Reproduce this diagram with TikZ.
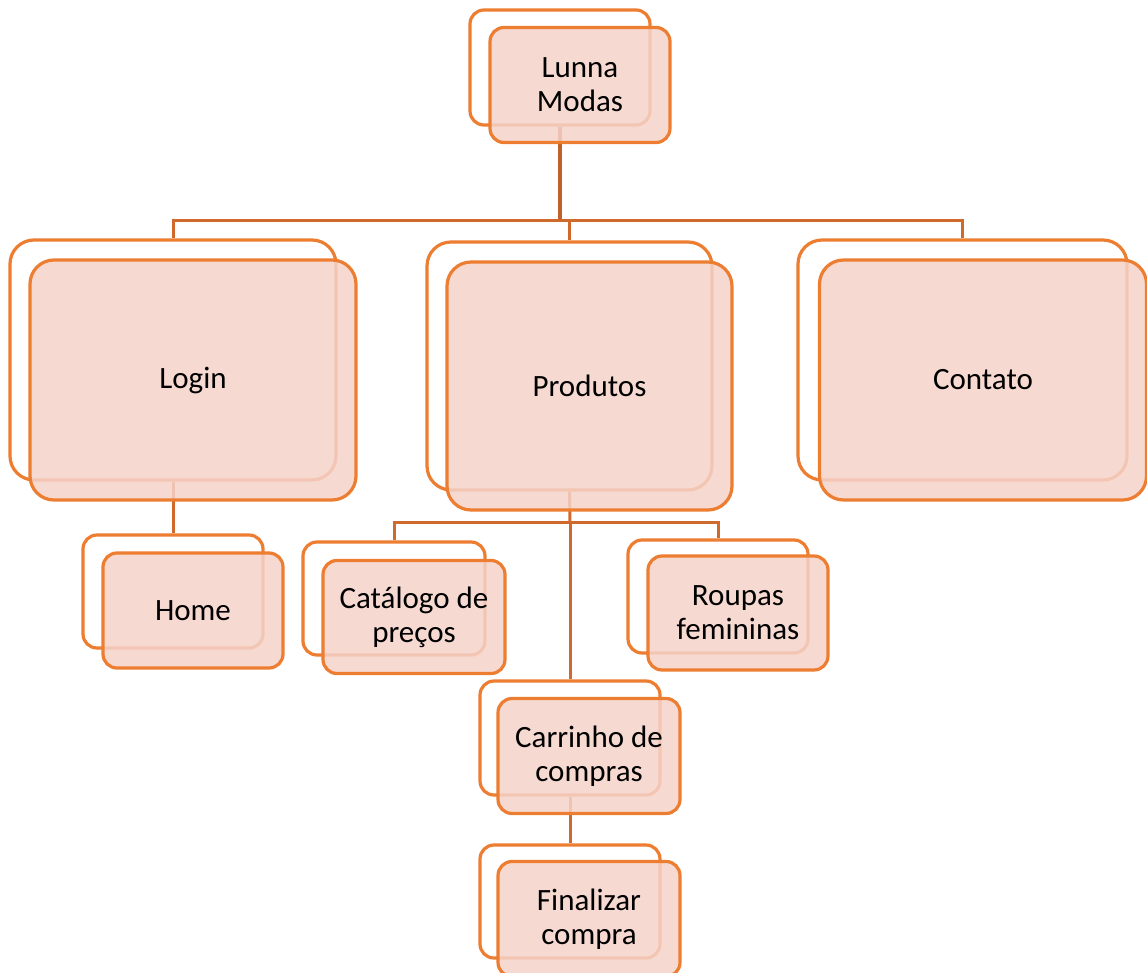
\documentclass[tikz,border=0pt]{standalone}
\usepackage{fontspec}
\setmainfont{Carlito}
\definecolor{orangeb}{HTML}{ED7D31}
\definecolor{pinkf}{HTML}{F5D3CA}
\definecolor{connc}{HTML}{D06A2C}
\definecolor{trunkc}{HTML}{C0612A}
\begin{document}
\begin{tikzpicture}[x=1pt,y=-1pt,
  boxbase/.style={draw=orangeb, line width=3.2pt, inner sep=0pt},
  backbox/.style={boxbase, fill=white},
  frontbox/.style={boxbase, fill=pinkf, fill opacity=0.85, text opacity=1, draw opacity=1,
     align=center, font=\fontsize{31}{34}\selectfont},
  small/.style={rounded corners=14pt},
  big/.style={rounded corners=24pt},
  conn/.style={draw=connc, line width=3pt},
  trunk/.style={draw=trunkc, line width=3.6pt}]
\useasboundingbox (0,0) rectangle (1147,973);
% back boxes positions
\path (560,67.5) coordinate (lunnabc)
      (173,360) coordinate (loginbc)
      (569.5,366) coordinate (produtosbc)
      (962.5,360) coordinate (contatobc)
      (173,591.5) coordinate (homebc)
      (394,598.5) coordinate (catalogobc)
      (718,596.5) coordinate (roupasbc)
      (570,738) coordinate (carrinhobc)
      (570,901.5) coordinate (finalizarbc);
% back boxes
\node[backbox, small, minimum width=180pt, minimum height=115pt] (lunnab) at (lunnabc) {};
\node[backbox, big, minimum width=326pt, minimum height=240pt] (loginb) at (loginbc) {};
\node[backbox, big, minimum width=285pt, minimum height=248pt] (produtosb) at (produtosbc) {};
\node[backbox, big, minimum width=329pt, minimum height=240pt] (contatob) at (contatobc) {};
\node[backbox, small, minimum width=180pt, minimum height=113pt] (homeb) at (homebc) {};
\node[backbox, small, minimum width=182pt, minimum height=113pt] (catalogob) at (catalogobc) {};
\node[backbox, small, minimum width=180pt, minimum height=113pt] (roupasb) at (roupasbc) {};
\node[backbox, small, minimum width=180pt, minimum height=114pt] (carrinhob) at (carrinhobc) {};
\node[backbox, small, minimum width=180pt, minimum height=113pt] (finalizarb) at (finalizarbc) {};
% connectors
\coordinate (bus1) at (560,221);
\coordinate (bus2) at (570,522);
\draw[trunk] (lunnab.south) -- (bus1);
\draw[conn] (bus1) -| (loginb.north);
\draw[conn] (bus1) -| (produtosb.north);
\draw[conn] (bus1) -| (contatob.north);
\draw[conn] (loginb.south) -- (homeb.north);
\draw[conn] (produtosb.south) -- (bus2);
\draw[conn] (bus2) -| (catalogob.north);
\draw[conn] (bus2) -| (roupasb.north);
\draw[conn] (bus2) -- (carrinhob.north);
\draw[conn] (carrinhob.south) -- (finalizarb.north);
% front boxes
\node[frontbox, small, minimum width=180pt, minimum height=115pt] (lunna) at (580,85) {Lunna\\Modas};
\node[frontbox, big, minimum width=326pt, minimum height=240pt] (login) at (193,380) {Login};
\node[frontbox, big, minimum width=285pt, minimum height=248pt] (produtos) at (589.5,386) {Produtos};
\node[frontbox, big, minimum width=327pt, minimum height=240pt] (contato) at (983,380) {Contato};
\node[frontbox, small, minimum width=180pt, minimum height=115pt] (home) at (193,610.5) {Home};
\node[frontbox, small, minimum width=182pt, minimum height=113pt] (catalogo) at (414,617) {Catálogo de\\preços};
\node[frontbox, small, minimum width=180pt, minimum height=114pt] (roupas) at (738,613) {Roupas\\femininas};
\node[frontbox, small, minimum width=182pt, minimum height=115pt] (carrinho) at (589,756) {Carrinho de\\compras};
\node[frontbox, small, minimum width=182pt, minimum height=115pt] (finalizar) at (589,919) {Finalizar\\compra};
\end{tikzpicture}
\end{document}
